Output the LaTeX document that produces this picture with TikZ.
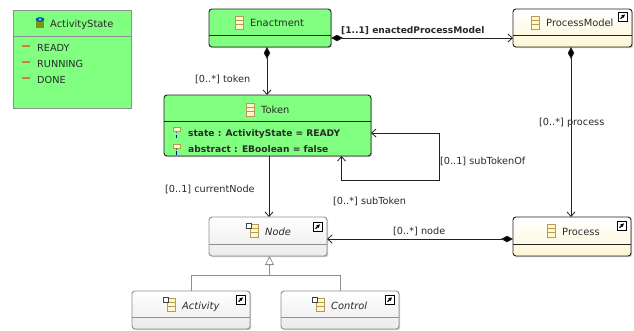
\documentclass[tikz,border=0pt]{standalone}
\usepackage{fontspec}
\setmainfont{DejaVu Sans}
\usetikzlibrary{arrows.meta,shadows,calc}
\definecolor{grn}{HTML}{80FF80}
\definecolor{edge}{HTML}{222222}
\definecolor{graye}{HTML}{8F8F8F}
\definecolor{txt}{HTML}{2A2A2A}
\definecolor{iconb}{HTML}{B89A55}
\definecolor{iconf}{HTML}{FFF7D0}
\tikzset{
  x=1pt,y=-1pt,
  barb/.tip={Straight Barb[length=4.5pt,width=8pt,line width=.8pt]},
  umlbase/.style={outer sep=0pt,inner sep=0pt,line width=.9pt,
    drop shadow={shadow xshift=1.2pt,shadow yshift=-1.2pt,fill=black!35,opacity=.6}},
  greenbox/.style={umlbase,draw=edge,fill=grn,rounded corners=3pt},
  enumbox/.style={umlbase,draw=graye,fill=grn},
  yellowbox/.style={umlbase,draw=edge,rounded corners=3pt,top color=white,bottom color=iconf!90!white},
  whitebox/.style={umlbase,draw=graye,rounded corners=3pt,top color=white,bottom color=black!8},
  label/.style={font=\fontsize{9.7}{11}\selectfont,text=txt,inner sep=0pt,anchor=base west},
  boldlabel/.style={label,font=\fontsize{9.1}{11}\selectfont\bfseries},
  title/.style={font=\fontsize{9.9}{11}\selectfont,text=txt,inner sep=0pt,anchor=base west},
  ititle/.style={title,font=\fontsize{9.9}{11}\selectfont\itshape},
  conn/.style={line width=.9pt,draw=edge},
  comp/.style={conn,{Diamond[length=12pt,width=6.5pt,fill=black]}-barb},
  ref/.style={conn,-barb},
  gen/.style={line width=.8pt,draw=graye},
  sepline/.style={line width=.8pt,draw=edge},
  sepgray/.style={line width=.8pt,draw=graye},
}
% box name, x1, y1, x2, y2, style
\newcommand{\umlbox}[6]{%
  \node[#6,minimum width=#4pt-#2pt,minimum height=#5pt-#3pt] (#1) at ({(#2+#4)/2},{(#3+#5)/2}) {};}
% class icon with top-left corner at x,y
\newcommand{\clsicon}[2]{%
  \draw[iconb,fill=iconf,line width=.7pt] (#1,#2) rectangle +(8,13);
  \draw[iconb,line width=.7pt] (#1,#2+4.3) -- +(8,0) (#1,#2+8.7) -- +(8,0);}
\newcommand{\absicon}[2]{%
  \clsicon{#1}{#2}
  \draw[black!75,fill=white,line width=.6pt] (#1-3.5,#2-1) rectangle +(5,5);}
\newcommand{\jumpicon}[2]{%
  \draw[black,fill=white,line width=.8pt] (#1,#2) rectangle +(9,9);
  \draw[black,line width=1.2pt,-{Latex[length=3.5pt,width=4pt]}] (#1+2.5,#2+6.7) -- (#1+7,#2+2.2);}
\newcommand{\attricon}[2]{%
  \draw[iconb,fill=iconf,line width=.7pt] (#1,#2) rectangle +(7.5,4);
  \draw[black!60,line width=.5pt] (#1+3.7,#2+4) -- +(0,1.5);
  \draw[blue!60!black,line width=.7pt] (#1+3.7,#2+7) -- +(0,3.5);}
\newcommand{\liticon}[2]{%
  \draw[brown!80!orange,line width=1.1pt] (#1,#2) -- +(7.5,0);}
\begin{document}
\begin{tikzpicture}
\useasboundingbox (0,0) rectangle (634,330);
\fill[white] (0,0) rectangle (634,330);

% boxes
\umlbox{state}{13}{10}{131}{108}{enumbox}
\umlbox{enact}{209}{9}{331}{47}{greenbox}
\umlbox{token}{164}{95}{371}{156}{greenbox}
\umlbox{pmodel}{513}{9}{632}{47}{yellowbox}
\umlbox{process}{513}{217}{631}{256}{yellowbox}
\umlbox{nodebox}{209}{217}{327}{256}{whitebox}
\umlbox{activity}{132}{291}{250}{329}{whitebox}
\umlbox{control}{281}{291}{399}{329}{whitebox}

% separators
\draw[sepgray] (state.west |- 0,36) -- (state.east |- 0,36);
\draw[sepline] (enact.west |- 0,35) -- (enact.east |- 0,35);
\draw[sepline] (token.west |- 0,121) -- (token.east |- 0,121);
\draw[sepline] (pmodel.west |- 0,35) -- (pmodel.east |- 0,35);
\draw[sepline] (process.west |- 0,244) -- (process.east |- 0,244);
\draw[sepgray] (nodebox.west |- 0,244) -- (nodebox.east |- 0,244);
\draw[sepgray] (activity.west |- 0,317) -- (activity.east |- 0,317);
\draw[sepgray] (control.west |- 0,317) -- (control.east |- 0,317);

% titles
\node[title] (tState) at (50,27) {ActivityState};
\node[title] (tEnact) at (250,26) {Enactment};
\node[title] (tToken) at (261,113) {Token};
\node[title] (tPM) at (546,26) {ProcessModel};
\node[title] (tProc) at (562,235) {Process};
\node[ititle] (tNode) at (265,235) {Node};
\node[ititle] (tAct) at (182,309) {Activity};
\node[ititle] (tCtl) at (331,309) {Control};

% literals and attributes
\node[label] (lit1) at (37,51) {READY};
\node[label] (lit2) at (37,67) {RUNNING};
\node[label] (lit3) at (37,83) {DONE};
\liticon{22}{46}\liticon{22}{62}\liticon{22}{78}
\node[boldlabel] (attr1) at (188,136) {state : ActivityState = READY};
\node[boldlabel] (attr2) at (188,152) {abstract : EBoolean = false};
\attricon{173}{127.5}\attricon{173}{144}

% icons
\clsicon{235}{16}
\clsicon{246}{103}
\clsicon{531}{16}
\clsicon{547}{224}
\absicon{250}{224}
\absicon{167}{298}
\absicon{316}{298}
\jumpicon{313}{222}
\jumpicon{236}{295}
\jumpicon{385}{295}
\jumpicon{618}{12}
\jumpicon{617}{221}
% enum icon
\fill[olive!70!green] (36,21) rectangle +(8,7);
\fill[teal!70!blue] (40,19.5) ellipse (4.5 and 2.3);
\fill[white] (40,19.5) circle (1);

% connectors
\draw[comp] ([xshift=-3pt]enact.south) -- ([xshift=-.5pt]token.north);
\draw[comp] ([yshift=-10pt]enact.east) -- ([yshift=-10pt]pmodel.west);
\draw[comp] ([xshift=-1.5pt]pmodel.south) -- ([xshift=-1pt]process.north);
\draw[ref] ([xshift=1.5pt]token.south) -- ([xshift=1pt]nodebox.north);
\draw[comp] ([yshift=-2.5pt]process.west) -- ([yshift=-2.5pt]nodebox.east);
\coordinate (b1) at (439,133);
\coordinate (b2) at (439,180);
\coordinate (b3) at (341.5,180);
\draw[conn,barb-barb] (b3 |- token.south) -- (b3) -- (b2) -- (b1) -- (token.east |- b1);
\coordinate (g) at (269.5,275);
\draw[gen] (191,291) -- (191,275) -- (340,275) -- (340,291);
\draw[gen,-{Triangle[open,length=9pt,width=9pt,fill=white]}] (g) -- (g |- nodebox.south);

% connector labels
\node[boldlabel] (l1) at (341,33) {[1..1] enactedProcessModel};
\node[label] (l2) at (195,82) {[0..*] token};
\node[label] (l3) at (539,125) {[0..*] process};
\node[label] (l4) at (440,164) {[0..1] subTokenOf};
\node[label] (l5) at (333,204) {[0..*] subToken};
\node[label] (l6) at (165,192) {[0..1] currentNode};
\node[label] (l7) at (393,234) {[0..*] node};
\end{tikzpicture}
\end{document}
